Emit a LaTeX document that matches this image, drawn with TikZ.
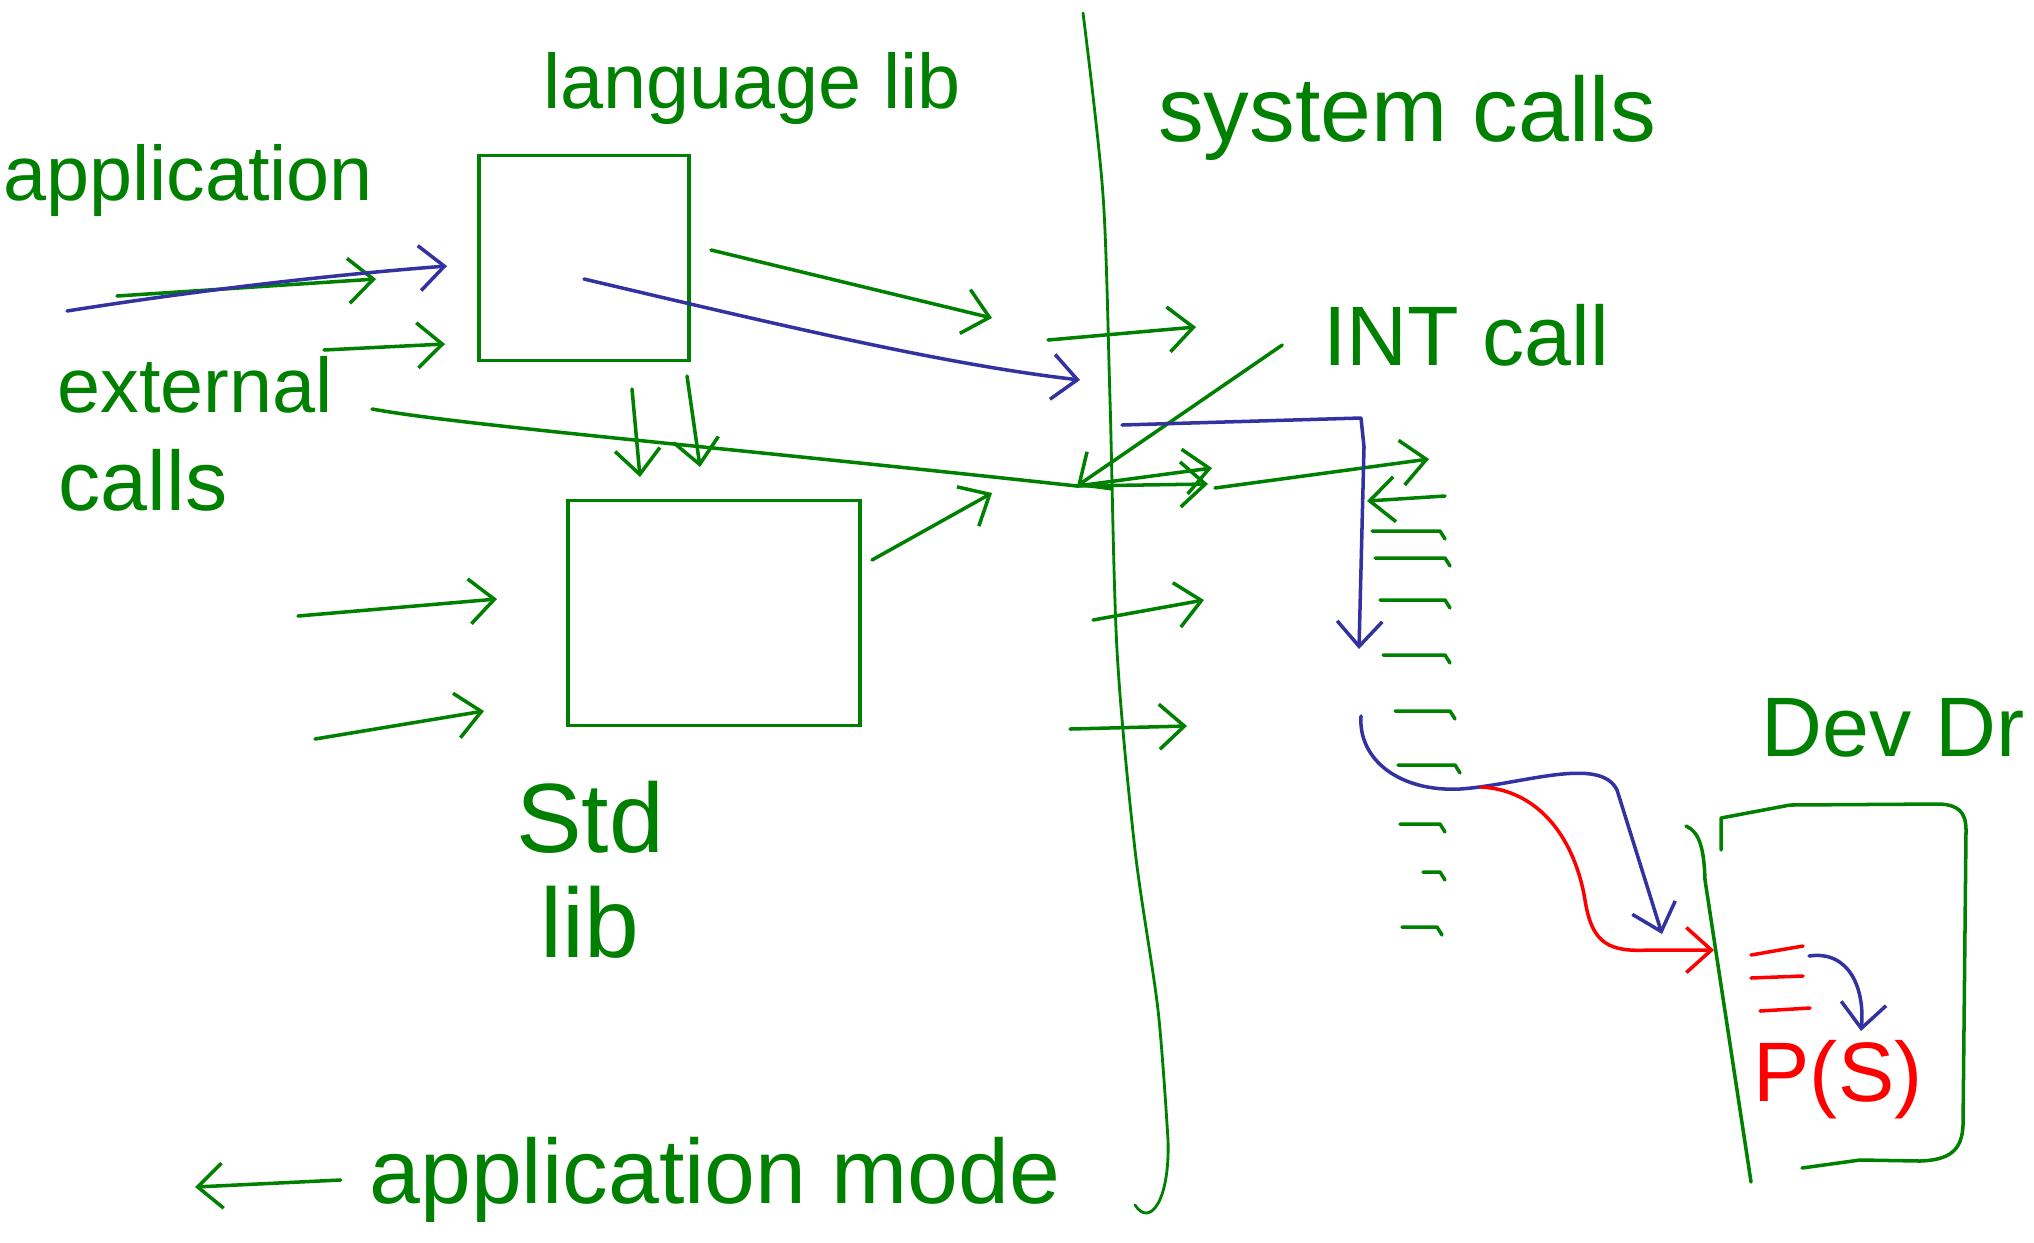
\documentclass[tikz,border=0pt]{standalone}
\usepackage{fontspec}
\setmainfont{Liberation Sans}
\usetikzlibrary{arrows.meta,positioning}
\definecolor{pen}{RGB}{0,128,0}
\definecolor{ink}{RGB}{50,50,160}
\definecolor{redpen}{RGB}{255,0,0}

\begin{document}
\begin{tikzpicture}[x=0.01cm,y=-0.01cm,
box/.style={draw=pen,line width=1pt,minimum width=2.1cm,minimum height=2.05cm},
hand/.style={text=pen,font=\fontsize{22}{26}\selectfont,inner sep=0pt},
line/.style={draw=pen,line width=1pt,line cap=round,line join=round},
arrow/.style={line,-{Straight Barb[length=2.5mm,width=4.5mm]}},
bluearrow/.style={arrow,draw=ink},
redarrow/.style={arrow,draw=redpen}
]
\useasboundingbox (0,0) rectangle (2034,1242);

% boxes
\node[box] (langlib) at (584,258) {};
\node[box,minimum width=2.92cm,minimum height=2.25cm] (stdlib) at (714,613) {};

% labels
\node[hand] (application) at (188,180) {application};
\node[hand] (external) at (195,385) {external};
\node[hand,font=\fontsize{24}{28}\selectfont] (calls) at (143,480) {calls};
\node[hand] (langlabel) at (752,88) {language lib};
\node[hand,font=\fontsize{26}{30}\selectfont] (syscalls) at (1407,118) {system calls};
\node[hand,font=\fontsize{24}{28}\selectfont] (intcall) at (1466,335) {INT call};
\node[hand,font=\fontsize{28}{30}\selectfont,align=center] (stdlabel) at (590,870) {Std\\lib};
\node[hand,font=\fontsize{24}{28}\selectfont] (devdr) at (1893,728) {Dev Dr};
\node[hand,text=redpen,font=\fontsize{24}{28}\selectfont] (ps) at (1838,1080) {P(S)};
\node[hand,font=\fontsize{26}{30}\selectfont] (appmode) at (715,1180) {application mode};

% user/kernel boundary
\draw[line,line width=0.8pt] plot[smooth] coordinates {(1083,13) (1103,195) (1110,400) (1117,650) (1135,850) (1158,1010) (1168,1140)}
  .. controls (1170,1200) and (1150,1228) .. (1135,1205);

% device driver
\draw[line] (1721,850) -- (1721,818) -- (1790,805) -- (1940,804)
  .. controls (1958,805) and (1966,812) .. (1966,830) -- (1963,1125)
  .. controls (1962,1150) and (1950,1160) .. (1920,1161) -- (1860,1160) -- (1802,1168);
\draw[line] (1686,826) .. controls (1700,832) and (1704,850) .. (1705,880) -- (1751,1182);

% connector ends
\coordinate (jn) at (1077,486);
\coordinate (in1) at (117,296);
\coordinate (in2) at (67,311);
\coordinate (in3) at (324,350);
\coordinate (in4) at (298,616);
\coordinate (in5) at (315,739);
\coordinate (extout) at (372,409);
\coordinate (langout) at (711,250);
\coordinate (langin) at (584,279);
\coordinate (stdout) at (872,560);
\coordinate (modeend) at (195,1187);

% application side
\draw[arrow] (in1) -- (376,279);
\draw[bluearrow] (in2) .. controls (200,290) and (330,275) .. (447,266);
\draw[arrow] (in3) -- (445,344);
\draw[line] (extout) .. controls (460,425) and (700,445) .. (jn);
\draw[arrow] (in4) -- (497,599);
\draw[arrow] (in5) -- (484,711);
\draw[arrow] (632,389) -- (640,477);
\draw[arrow] (687,376) -- (700,467);
\draw[arrow] (langout) -- (992,318);
\draw[bluearrow] (langin) .. controls (800,330) and (950,365) .. (1080,380);
\draw[arrow] (stdout) -- (992,493);
\draw[arrow] ([xshift=-8pt]appmode.west) -- (modeend);

% crossing the boundary
\draw[arrow] (1048,340) -- (1196,327);
\draw[arrow] (intcall.west) ++(-40,10) -- (jn);
\draw[arrow] (jn) -- (1212,468);
\draw[arrow] (jn) -- (1208,484);
\draw[arrow] (1215,488) -- (1429,459);
\draw[arrow] (1093,620) -- (1204,600);
\draw[arrow] (1070,729) -- (1187,726);
\draw[bluearrow] (1122,425) -- (1361,418) -- (1364,447) -- (1359,649);

% system call table
\draw[arrow] (1445,496) -- (1367,501);
\foreach \y/\a/\b in {531/1372/1440, 558/1375/1445, 600/1380/1445, 655/1383/1445,
  711/1395/1450, 765/1398/1455, 824/1400/1440, 872/1423/1440, 927/1402/1437}
  \draw[line] (\a,\y) -- (\b,\y) -- ++(5,8);

% dispatch to driver
\draw[bluearrow] (1361,716) .. controls (1358,760) and (1400,792) .. (1460,789)
  .. controls (1520,785) and (1600,755) .. (1617,790) -- (1662,934);
\draw[redarrow] (1481,787) .. controls (1540,790) and (1575,840) .. (1585,900)
  .. controls (1592,945) and (1610,952) .. (1650,950) -- (1714,950);
\draw[line,draw=redpen] (1751,955) -- (1803,946);
\draw[line,draw=redpen] (1751,978) -- (1803,976);
\draw[line,draw=redpen] (1760,1011) -- (1810,1008);
\draw[bluearrow] (1809,956) .. controls (1850,950) and (1865,990) .. (1861,1031);
\end{tikzpicture}
\end{document}
